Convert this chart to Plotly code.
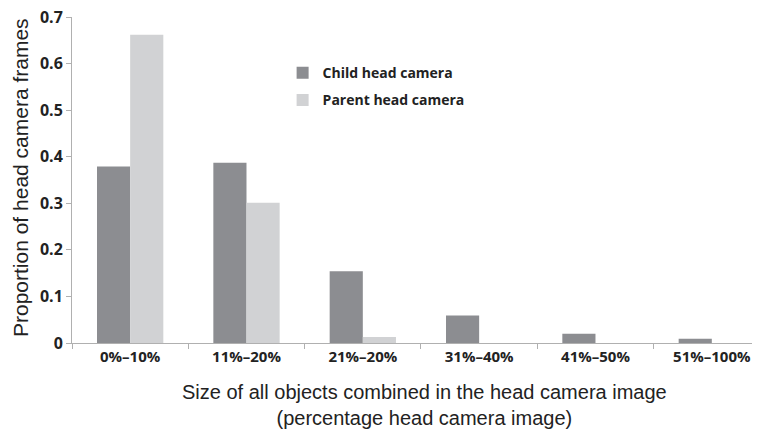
import plotly.graph_objects as go

categories = ["0%\u201310%", "11%\u201320%", "21%\u201320%", "31%\u201340%", "41%\u201350%", "51%\u2013100%"]
child_values = [0.379, 0.387, 0.154, 0.059, 0.020, 0.009]
parent_values = [0.662, 0.301, 0.013, 0.0, 0.0, 0.0]
y_ticks = [0, 0.1, 0.2, 0.3, 0.4, 0.5, 0.6, 0.7]
y_tick_labels = ["0", "0.1", "0.2", "0.3", "0.4", "0.5", "0.6", "0.7"]

CHILD = "#8c8d91"
PARENT = "#d1d2d4"

fig = go.Figure()
fig.add_trace(go.Bar(x=categories, y=child_values, name="Child head camera",
                     marker=dict(color=CHILD, line=dict(width=0)), legendgroup="a"))
fig.add_trace(go.Bar(x=categories, y=parent_values, name="Parent head camera",
                     marker=dict(color=PARENT, line=dict(width=0)), legendgroup="b"))

fig.update_layout(
    width=760, height=437,
    margin=dict(l=64, r=0, t=9, b=102, autoexpand=False),
    paper_bgcolor="white", plot_bgcolor="white",
    barmode="group", bargap=0.43, bargroupgap=0,
    showlegend=True,
    legend=dict(x=0.3026, y=0.877, xanchor="left", yanchor="top",
                font=dict(family="Open Sans", size=14, color="#222222", weight="bold"),
                bgcolor="rgba(0,0,0,0)", tracegroupgap=6, traceorder="grouped",
                itemwidth=30),
    xaxis=dict(type="category", range=[-0.5, 5.483], automargin=False,
               showline=True, linecolor="#b0b0b0", linewidth=1,
               ticks="outside", tickson="boundaries", ticklen=5, tickcolor="#b0b0b0",
               tickfont=dict(family="Open Sans", size=15, color="#222222", weight="bold"),
               ticklabeloverflow="allow",
               showgrid=False, zeroline=False),
    yaxis=dict(range=[0, 0.7], tickvals=y_ticks, ticktext=y_tick_labels, automargin=False,
               showline=True, linecolor="#b0b0b0", linewidth=1,
               ticks="outside", ticklen=5, tickcolor="#b0b0b0",
               tickfont=dict(family="Open Sans", size=16, color="#222222", weight="bold"),
               ticklabeloverflow="allow",
               showgrid=False, zeroline=False),
    annotations=[
        dict(text="Proportion of head camera frames", xref="paper", yref="paper",
             x=-0.0747, y=0.506, xanchor="center", yanchor="middle", textangle=-90,
             showarrow=False, font=dict(family="Liberation Sans", size=21, color="#222222")),
        dict(text="Size of all objects combined in the head camera image<br>(percentage head camera image)",
             xref="paper", yref="paper", x=0.506, y=-0.111, xanchor="center", yanchor="top",
             showarrow=False, font=dict(family="Liberation Sans", size=20, color="#222222")),
    ],
)

fig.write_html("out.html")
